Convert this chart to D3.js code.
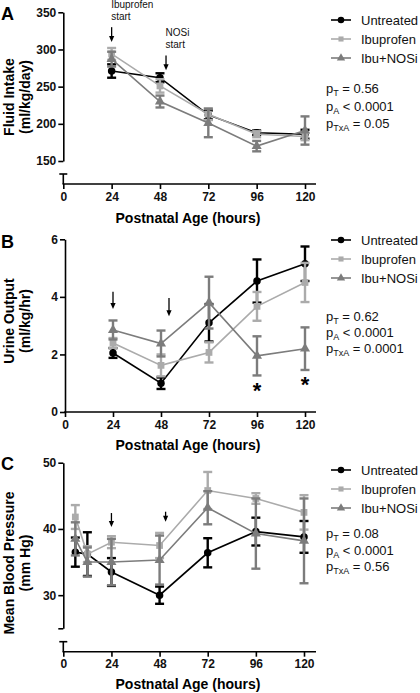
<!DOCTYPE html>
<html><head><meta charset="utf-8">
<script src="https://cdn.jsdelivr.net/npm/d3@7"></script>
<style>
body{margin:0;background:#fff}
svg{display:block}
text{font-family:"Liberation Sans",Arial,Helvetica,sans-serif}
</style>
</head><body>
<svg id="chart" width="420" height="693"></svg>
<script>
// ---------------- DATA ----------------
const seriesNames = ["Untreated", "Ibuprofen", "Ibu+NOSi"];
const xTickValues = [0, 24, 48, 72, 96, 120];
const hoursAB = [24, 48, 72, 96, 120];
const hoursC = [6, 12, 24, 48, 72, 96, 120];

// Panel A: Fluid intake (ml/kg/day), mean and SEM
const fluidUntreated = [271, 262, 212, 188, 186];
const fluidUntreatedErr = [9, 6, 6, 3, 6];
const fluidIbuprofen = [294, 251, 213, 186, 183];
const fluidIbuprofenErr = [8, 9, 8, 4, 5];
const fluidIbuNOSi = [287, 230, 201, 170, 191];
const fluidIbuNOSiErr = [10, 8, 19, 7, 19];
const fluidTicks = [150, 200, 250, 300, 350];
const fluidStats = [["T", "= 0.56"], ["A", "< 0.0001"], ["TxA", "= 0.05"]];

// Panel B: Urine output (ml/kg/hr)
const urineUntreated = [2.05, 1.0, 3.1, 4.55, 5.15];
const urineUntreatedErr = [0.17, 0.2, 0.65, 0.75, 0.6];
const urineIbuprofen = [2.4, 1.62, 2.07, 3.67, 4.5];
const urineIbuprofenErr = [0.17, 0.38, 0.35, 0.5, 0.68];
const urineIbuNOSi = [2.85, 2.38, 3.8, 1.95, 2.2];
const urineIbuNOSiErr = [0.33, 0.45, 0.9, 0.68, 0.74];
const urineTicks = [0, 2, 4, 6];
const urineStats = [["T", "= 0.62"], ["A", "< 0.0001"], ["TxA", "= 0.0001"]];
const urineAsterisks = [[96, 0.94], [120, 1.15]];

// Panel C: Mean blood pressure (mm Hg)
const mbpUntreated = [36.5, 36.2, 33.5, 30.0, 36.4, 39.6, 38.8];
const mbpUntreatedErr = [2.2, 3.3, 2.1, 1.3, 2.2, 2.1, 2.4];
const mbpIbuprofen = [41.8, 36.2, 38.0, 37.5, 45.8, 44.6, 42.5];
const mbpIbuprofenErr = [1.8, 1.2, 0.9, 1.9, 2.8, 0.8, 2.6];
const mbpIbuNOSi = [38.5, 35.0, 35.0, 35.3, 43.2, 39.3, 38.2];
const mbpIbuNOSiErr = [2.5, 2.2, 3.5, 3.7, 2.5, 5.3, 6.4];
const mbpTicks = [25, 30, 40, 50];
const mbpTickLabels = [30, 40, 50];
const mbpStats = [["T", "= 0.08"], ["A", "< 0.0001"], ["TxA", "= 0.56"]];

// Treatment-start arrows: [hour, top value, bottom value]
const fluidArrows = [[24, 330, 310], [51, 292, 272]];
const fluidArrowLabels = [["Ibuprofen", "start"], ["NOSi", "start"]];
const urineArrows = [[24, 4.18, 3.58], [52, 3.96, 3.33]];
const mbpArrows = [[24, 42.4, 40.3], [51, 42.6, 41.1]];

// ---------------- STYLE ----------------
const colors = ["#000000", "#ababab", "#7c7c7c"];
const svg = d3.select("#chart");

function drawPanel(cfg) {
  const g = svg.append("g");
  const x = d3.scaleLinear().domain([0, 120]).range([cfg.x0, cfg.x1]);
  const y = d3.scaleLinear().domain(cfg.yDomain).range([cfg.yBottom, cfg.yTop]);

  // y axis
  const ya = g.append("g").attr("transform", `translate(${cfg.x0},0)`)
    .call(d3.axisLeft(y).tickValues(cfg.yTicks).tickSize(5).tickSizeOuter(0)
      .tickFormat(d => cfg.yLabels.includes(d) ? d : ""));
  ya.select(".domain").attr("stroke-width", 1.6);
  ya.selectAll(".tick line").attr("stroke-width", 1.6);
  ya.selectAll(".tick text").attr("font-size", 12).attr("font-weight", "bold")
    .attr("x", -7).attr("fill", "#111");

  // broken lower segment
  if (cfg.breakTop != null) {
    g.append("line").attr("x1", cfg.x0).attr("x2", cfg.x0)
      .attr("y1", cfg.breakTop).attr("y2", cfg.xAxisY).attr("stroke", "#000").attr("stroke-width", 1.6);
    g.append("line").attr("x1", cfg.x0 - 4).attr("x2", cfg.x0 + 4)
      .attr("y1", cfg.breakTop).attr("y2", cfg.breakTop).attr("stroke", "#000").attr("stroke-width", 1.6);
  }

  // x axis
  const xa = g.append("g").attr("transform", `translate(0,${cfg.xAxisY})`)
    .call(d3.axisBottom(x).tickValues(xTickValues).tickSize(5).tickSizeOuter(0));
  xa.select(".domain").remove();
  xa.append("line").attr("x1", cfg.x0 - 0.8).attr("x2", cfg.xEnd).attr("stroke", "#000").attr("stroke-width", 1.6);
  xa.selectAll(".tick line").attr("stroke-width", 1.6);
  xa.selectAll(".tick text").attr("font-size", 12).attr("font-weight", "bold")
    .attr("y", 8).attr("fill", "#111");

  // axis titles
  g.append("text").attr("x", 188).attr("y", cfg.xAxisY + cfg.xTitleOff)
    .attr("text-anchor", "middle").attr("font-size", 14).attr("font-weight", "bold")
    .text("Postnatal Age (hours)");
  cfg.yTitle.forEach((t, i) => {
    g.append("text")
      .attr("transform", `translate(${i === 0 ? 13.5 : 29.5},${cfg.yTitleY}) rotate(-90)`)
      .attr("text-anchor", "middle").attr("font-size", 14).attr("font-weight", "bold")
      .text(t);
  });

  // panel letter
  g.append("text").attr("x", 1).attr("y", cfg.letterY).attr("font-size", 18)
    .attr("font-weight", "bold").text(cfg.letter);

  // series
  cfg.series.forEach((s, si) => {
    const col = colors[si];
    const pts = cfg.hours.map((h, i) => ({h, v: s.mean[i], e: s.err[i]}));
    const eb = g.append("g").attr("stroke", col).attr("stroke-width", 2.4);
    pts.forEach(p => {
      eb.append("line").attr("x1", x(p.h)).attr("x2", x(p.h))
        .attr("y1", y(p.v - p.e)).attr("y2", y(p.v + p.e));
      [p.v - p.e, p.v + p.e].forEach(v => {
        eb.append("line").attr("x1", x(p.h) - 4.5).attr("x2", x(p.h) + 4.5)
          .attr("y1", y(v)).attr("y2", y(v));
      });
    });
    g.append("path").datum(pts)
      .attr("d", d3.line().x(p => x(p.h)).y(p => y(p.v)))
      .attr("fill", "none").attr("stroke", col).attr("stroke-width", 1.6);
    const sym = [d3.symbolCircle, d3.symbolSquare, d3.symbolTriangle][si];
    const size = [44, 46, 44][si];
    g.selectAll(null).data(pts).enter().append("path")
      .attr("transform", p => `translate(${x(p.h)},${y(p.v)})`)
      .attr("d", d3.symbol().type(sym).size(size)).attr("fill", col);
  });

  // arrows
  cfg.arrows.forEach(a => {
    const ax = x(a[0]), y1 = y(a[1]), y2 = y(a[2]);
    g.append("line").attr("x1", ax).attr("x2", ax).attr("y1", y1).attr("y2", y2 - 5)
      .attr("stroke", "#000").attr("stroke-width", 1.3);
    g.append("path").attr("d", `M${ax - 2.6},${y2 - 6} L${ax + 2.6},${y2 - 6} L${ax},${y2} Z`).attr("fill", "#000");
  });
  if (cfg.arrowLabels) {
    cfg.arrowLabels.forEach((lbl, i) => {
      const ax = x(cfg.arrows[i][0]);
      lbl.forEach((t, j) => {
        g.append("text").attr("x", ax - 0.5).attr("y", y(cfg.arrows[i][1]) - 19 + j * 11.5)
          .attr("font-size", 10).attr("fill", "#111").text(t);
      });
    });
  }

  // asterisks
  if (cfg.asterisks) {
    cfg.asterisks.forEach(a => {
      g.append("text").attr("x", x(a[0])).attr("y", y(a[1]) + 13)
        .attr("text-anchor", "middle").attr("font-size", 22).attr("font-weight", "bold").text("*");
    });
  }

  // legend
  seriesNames.forEach((name, si) => {
    const ly = cfg.legendY + si * 19;
    g.append("line").attr("x1", 331).attr("x2", 351).attr("y1", ly).attr("y2", ly)
      .attr("stroke", colors[si]).attr("stroke-width", 1.6);
    const sym = [d3.symbolCircle, d3.symbolSquare, d3.symbolTriangle][si];
    g.append("path").attr("transform", `translate(341,${ly})`)
      .attr("d", d3.symbol().type(sym).size([34, 26, 30][si])).attr("fill", colors[si]);
    g.append("text").attr("x", 361).attr("y", ly + 4.6).attr("font-size", 13).attr("fill", "#111").text(name);
  });

  // stats
  cfg.stats.forEach((st, i) => {
    const t = g.append("text").attr("x", 326).attr("y", cfg.statsY + i * cfg.statsGap)
      .attr("font-size", 13).attr("fill", "#111");
    t.append("tspan").text("p");
    t.append("tspan").attr("dy", 3).attr("font-size", 9).text(st[0]);
    t.append("tspan").attr("dy", -3).text(" " + st[1]);
  });
}

drawPanel({
  letter: "A", letterY: 20,
  x0: 63.3, x1: 305, xEnd: 316,
  yDomain: [150, 350], yBottom: 161, yTop: 12.3,
  yTicks: fluidTicks, yLabels: fluidTicks,
  breakTop: 174, xAxisY: 184, xTitleOff: 39,
  yTitle: ["Fluid Intake", "(ml/kg/day)"], yTitleY: 97,
  hours: hoursAB,
  series: [
    {mean: fluidUntreated, err: fluidUntreatedErr},
    {mean: fluidIbuprofen, err: fluidIbuprofenErr},
    {mean: fluidIbuNOSi, err: fluidIbuNOSiErr}
  ],
  arrows: fluidArrows, arrowLabels: fluidArrowLabels,
  legendY: 20, stats: fluidStats, statsY: 93, statsGap: 17.5
});

drawPanel({
  letter: "B", letterY: 248,
  x0: 65, x1: 305, xEnd: 316,
  yDomain: [0, 6], yBottom: 412, yTop: 239.3,
  yTicks: urineTicks, yLabels: urineTicks,
  breakTop: null, xAxisY: 412, xTitleOff: 38,
  yTitle: ["Urine Output", "(ml/kg/hr)"], yTitleY: 321,
  hours: hoursAB,
  series: [
    {mean: urineUntreated, err: urineUntreatedErr},
    {mean: urineIbuprofen, err: urineIbuprofenErr},
    {mean: urineIbuNOSi, err: urineIbuNOSiErr}
  ],
  arrows: urineArrows, asterisks: urineAsterisks,
  legendY: 240, stats: urineStats, statsY: 321, statsGap: 16
});

drawPanel({
  letter: "C", letterY: 470,
  x0: 63.3, x1: 304, xEnd: 316,
  yDomain: [25, 50], yBottom: 628.3, yTop: 462.7,
  yTicks: mbpTicks, yLabels: mbpTickLabels,
  breakTop: 641.7, xAxisY: 651.7, xTitleOff: 37,
  yTitle: ["Mean Blood Pressure", "(mm Hg)"], yTitleY: 563,
  hours: hoursC,
  series: [
    {mean: mbpUntreated, err: mbpUntreatedErr},
    {mean: mbpIbuprofen, err: mbpIbuprofenErr},
    {mean: mbpIbuNOSi, err: mbpIbuNOSiErr}
  ],
  arrows: mbpArrows,
  legendY: 470, stats: mbpStats, statsY: 538, statsGap: 16.5
});
</script>
</body></html>
